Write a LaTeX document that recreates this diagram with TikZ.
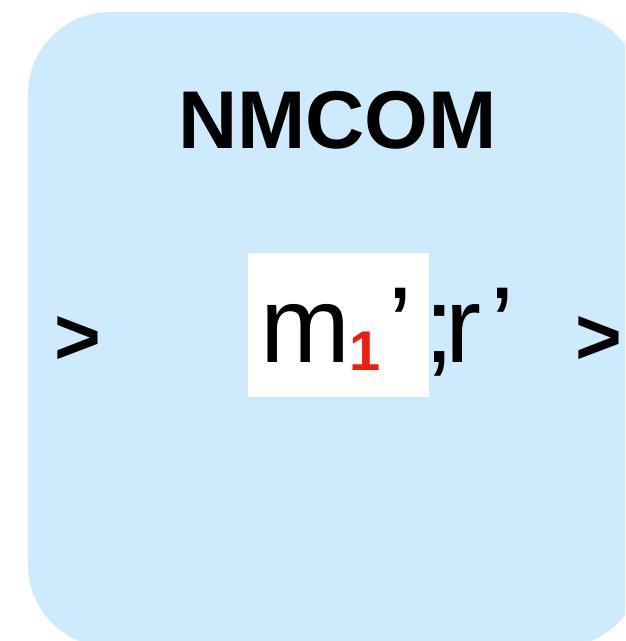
\documentclass[tikz,border=0pt]{standalone}
\usepackage{fontspec}
\setmainfont{Liberation Sans}
\definecolor{panelblue}{RGB}{205,235,253}
\definecolor{subred}{RGB}{235,30,15}
\tikzset{
  glyph/.style={inner sep=0pt, outer sep=0pt, anchor=base, text=black},
}
\begin{document}
\begin{tikzpicture}[x=1pt,y=-1pt]
\useasboundingbox (0,0) rectangle (625,641);
\clip (0,0) rectangle (625,641);
\fill[panelblue, rounded corners=82pt] (28,12) rectangle (642,647);
\node[glyph, font=\fontsize{82}{82}\selectfont\bfseries] (title) at (337.5,148) {NMCOM};
\node[fill=white, inner sep=0pt, minimum width=181pt, minimum height=144pt] (wbox) at (338.5,325) {};
\node[glyph, font=\fontsize{108}{108}\selectfont] (m) at (305.5,362) {m};
\node[glyph, font=\fontsize{56}{56}\selectfont\bfseries, text=subred] (sub) at (365,370) {1};
\node[glyph, font=\fontsize{108}{108}\selectfont] (q1) at (400,362) {’};
\node[glyph, font=\fontsize{108}{108}\selectfont, anchor=base west] (rest) at (424,362) {;\kern-9pt r\kern10pt’};
\node[glyph, font=\fontsize{80}{80}\selectfont\bfseries] (gl) at (77.5,364) {>};
\node[glyph, font=\fontsize{80}{80}\selectfont\bfseries] (gr) at (599,364) {>};
\end{tikzpicture}
\end{document}
